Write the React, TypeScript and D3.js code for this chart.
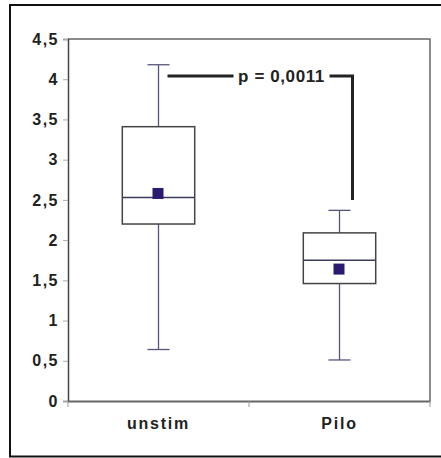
import React, { useEffect, useRef } from 'react';
import * as d3 from 'd3';

const WIDTH = 441;
const HEIGHT = 458;

const categories = ['unstim', 'Pilo'];
const whiskerLow = [0.64, 0.51];
const q1 = [2.2, 1.46];
const median = [2.53, 1.75];
const q3 = [3.41, 2.09];
const whiskerHigh = [4.18, 2.37];
const means = [2.58, 1.64];
const yTicks = [0, 0.5, 1, 1.5, 2, 2.5, 3, 3.5, 4, 4.5];
const pLabel = 'p = 0,0011';
const pLevel = 4.04;
const pDrop = 2.5;

const FONT = '"Liberation Sans", Arial, sans-serif';

const App: React.FC = () => {
  const ref = useRef<SVGSVGElement>(null);

  useEffect(() => {
    const svg = d3.select(ref.current);
    svg.selectAll('*').remove();

    const left = 68;
    const right = 430;
    const top = 39;
    const bottom = 401;

    const x = d3.scaleBand().domain(categories).range([left, right]);
    const y = d3.scaleLinear().domain([0, 4.5]).range([bottom, top]);
    const fmt = d3.formatLocale({ decimal: ',', thousands: '.', grouping: [3], currency: ['', ''] }).format('~g');

    // outer frame
    svg
      .append('rect')
      .attr('x', 10)
      .attr('y', 5)
      .attr('width', 450)
      .attr('height', 451.5)
      .attr('fill', 'none')
      .attr('stroke', '#111')
      .attr('stroke-width', 2);

    // plot border (top + right)
    svg
      .append('path')
      .attr('d', `M${left},${top}H${right}V${bottom}`)
      .attr('fill', 'none')
      .attr('stroke', '#666')
      .attr('stroke-width', 1.5);

    // y axis
    const yAxis = svg
      .append('g')
      .attr('transform', `translate(${left},0)`)
      .call(d3.axisLeft(y).tickValues(yTicks).tickSize(5).tickPadding(4).tickFormat((d) => fmt(d as number)));
    yAxis.select('.domain').attr('stroke', '#444').attr('stroke-width', 1.5);
    yAxis.selectAll('.tick line').attr('stroke', '#aaa');
    yAxis
      .selectAll('.tick text')
      .attr('fill', '#222')
      .attr('font-family', FONT)
      .attr('font-size', 16)
      .attr('font-weight', 'bold')
      .attr('letter-spacing', 1.5);

    // x axis
    const xAxis = svg
      .append('g')
      .attr('transform', `translate(0,${bottom})`)
      .call(d3.axisBottom(x).tickSize(0).tickPadding(17));
    xAxis.select('.domain').attr('stroke', '#666').attr('stroke-width', 2);
    xAxis
      .selectAll('.tick text')
      .attr('fill', '#222')
      .attr('font-family', FONT)
      .attr('font-size', 16)
      .attr('font-weight', 'bold')
      .attr('letter-spacing', 1.8);
    // category separators
    xAxis
      .selectAll('line.sep')
      .data([left, ...categories.map((c) => (x(c) as number) + x.bandwidth())])
      .join('line')
      .attr('class', 'sep')
      .attr('x1', (d) => d)
      .attr('x2', (d) => d)
      .attr('y1', 0)
      .attr('y2', 6)
      .attr('stroke', '#999');

    const boxW = x.bandwidth() * 0.4;
    const capW = 22;
    const cx = (i: number) => (x(categories[i]) as number) + x.bandwidth() / 2;

    const boxes = svg
      .selectAll('g.box')
      .data(categories)
      .join('g')
      .attr('class', 'box');

    // whiskers
    boxes
      .append('line')
      .attr('x1', (_, i) => cx(i))
      .attr('x2', (_, i) => cx(i))
      .attr('y1', (_, i) => y(whiskerHigh[i]))
      .attr('y2', (_, i) => y(q3[i]))
      .attr('stroke', '#55557a')
      .attr('stroke-width', 1.3);
    boxes
      .append('line')
      .attr('x1', (_, i) => cx(i))
      .attr('x2', (_, i) => cx(i))
      .attr('y1', (_, i) => y(q1[i]))
      .attr('y2', (_, i) => y(whiskerLow[i]))
      .attr('stroke', '#55557a')
      .attr('stroke-width', 1.3);
    // caps
    boxes
      .selectAll('line.cap')
      .data((_, i) => [whiskerHigh[i], whiskerLow[i]].map((v) => ({ v, i })))
      .join('line')
      .attr('class', 'cap')
      .attr('x1', (d) => cx(d.i) - capW / 2)
      .attr('x2', (d) => cx(d.i) + capW / 2)
      .attr('y1', (d) => y(d.v))
      .attr('y2', (d) => y(d.v))
      .attr('stroke', '#55557a')
      .attr('stroke-width', 1.3);

    // box
    boxes
      .append('rect')
      .attr('x', (_, i) => cx(i) - boxW / 2)
      .attr('y', (_, i) => y(q3[i]))
      .attr('width', boxW)
      .attr('height', (_, i) => y(q1[i]) - y(q3[i]))
      .attr('fill', 'white')
      .attr('stroke', '#444')
      .attr('stroke-width', 1.5);
    // median
    boxes
      .append('line')
      .attr('x1', (_, i) => cx(i) - boxW / 2)
      .attr('x2', (_, i) => cx(i) + boxW / 2)
      .attr('y1', (_, i) => y(median[i]))
      .attr('y2', (_, i) => y(median[i]))
      .attr('stroke', '#3a3a5a')
      .attr('stroke-width', 1.5);
    // mean
    boxes
      .append('rect')
      .attr('x', (_, i) => cx(i) - 6)
      .attr('y', (_, i) => y(means[i]) - 5.5)
      .attr('width', 11)
      .attr('height', 11)
      .attr('fill', '#2c1a70');

    // significance bracket
    const pY = y(pLevel);
    const x0 = cx(0) + 9;
    const x1 = cx(1) + 13;
    const gapL = x0 + 66;
    const gapR = x1 - 23;
    svg
      .append('path')
      .attr('d', `M${x0},${pY}H${gapL}M${gapR},${pY}H${x1}V${y(pDrop)}`)
      .attr('fill', 'none')
      .attr('stroke', '#222')
      .attr('stroke-width', 3);
    svg
      .append('text')
      .attr('x', (gapL + gapR) / 2)
      .attr('y', pY + 6)
      .attr('text-anchor', 'middle')
      .attr('font-family', FONT)
      .attr('font-size', 17)
      .attr('font-weight', 'bold')
      .attr('letter-spacing', 0.6)
      .attr('fill', '#222')
      .text(pLabel);
  }, []);

  return (
    <svg
      ref={ref}
      width={WIDTH}
      height={HEIGHT}
      style={{ position: 'absolute', left: 0, top: 0, background: 'white' }}
    />
  );
};

export default App;
